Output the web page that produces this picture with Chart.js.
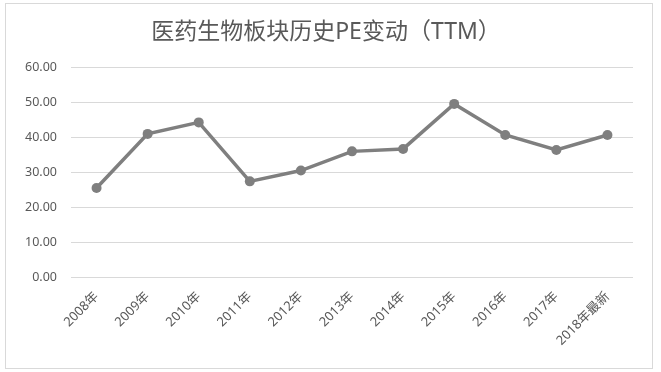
<!DOCTYPE html>
<html>
<head>
<meta charset="utf-8">
<script src="https://cdn.jsdelivr.net/npm/chart.js@4"></script>
<style>
  body { margin: 0; background: #fff; }
  #box { position: absolute; left: 5px; top: 3px; width: 646px; height: 364px; border: 1px solid #d9d9d9; }
  #pe { position: absolute; left: -5px; top: -3px; }
</style>
</head>
<body>
<div id="box"><canvas id="pe" width="661" height="372"></canvas></div>
<script>
const labels = ["2008年", "2009年", "2010年", "2011年", "2012年", "2013年", "2014年", "2015年", "2016年", "2017年", "2018年最新"];
const peValues = [25.5, 41.0, 44.3, 27.4, 30.5, 36.0, 36.7, 49.6, 40.7, 36.4, 40.7];
const yTicks = [0, 10, 20, 30, 40, 50, 60];

const font = "'Noto Sans', 'Noto Sans CJK SC', sans-serif";
const ctx = document.querySelector("#pe").getContext("2d");

new Chart(ctx, {
  type: "line",
  data: {
    labels,
    datasets: [{
      data: peValues,
      borderColor: "#7f7f7f",
      backgroundColor: "#7f7f7f",
      borderWidth: 3.5,
      pointRadius: 5,
      pointBorderWidth: 0,
      tension: 0,
    }],
  },
  options: {
    responsive: false,
    animation: false,
    layout: { padding: { left: 18, right: 29, top: 0, bottom: 0 } },
    plugins: {
      legend: { display: false },
      tooltip: { enabled: false },
      title: {
        display: true,
        text: "医药生物板块历史PE变动（TTM）",
        color: "#595959",
        font: { family: font, size: 23, weight: "normal" },
        padding: { top: 18, bottom: 21 },
      },
    },
    scales: {
      x: {
        offset: true,
        grid: { display: false },
        border: { display: false },
        ticks: {
          color: "#595959",
          font: { family: font, size: 13 },
          minRotation: 45,
          maxRotation: 45,
          padding: 4,
        },
        afterFit: (s) => { s.height = 96; },
      },
      y: {
        min: 0,
        max: 60,
        border: { display: false },
        grid: { color: "#d9d9d9", lineWidth: 1, drawTicks: false },
        afterBuildTicks: (s) => { s.ticks = yTicks.map((v) => ({ value: v })); },
        ticks: {
          color: "#595959",
          font: { family: font, size: 12.5 },
          padding: 14,
          callback: (v) => v.toFixed(2),
        },
        afterFit: (s) => { s.width = 52; },
      },
    },
  },
});
</script>
</body>
</html>
